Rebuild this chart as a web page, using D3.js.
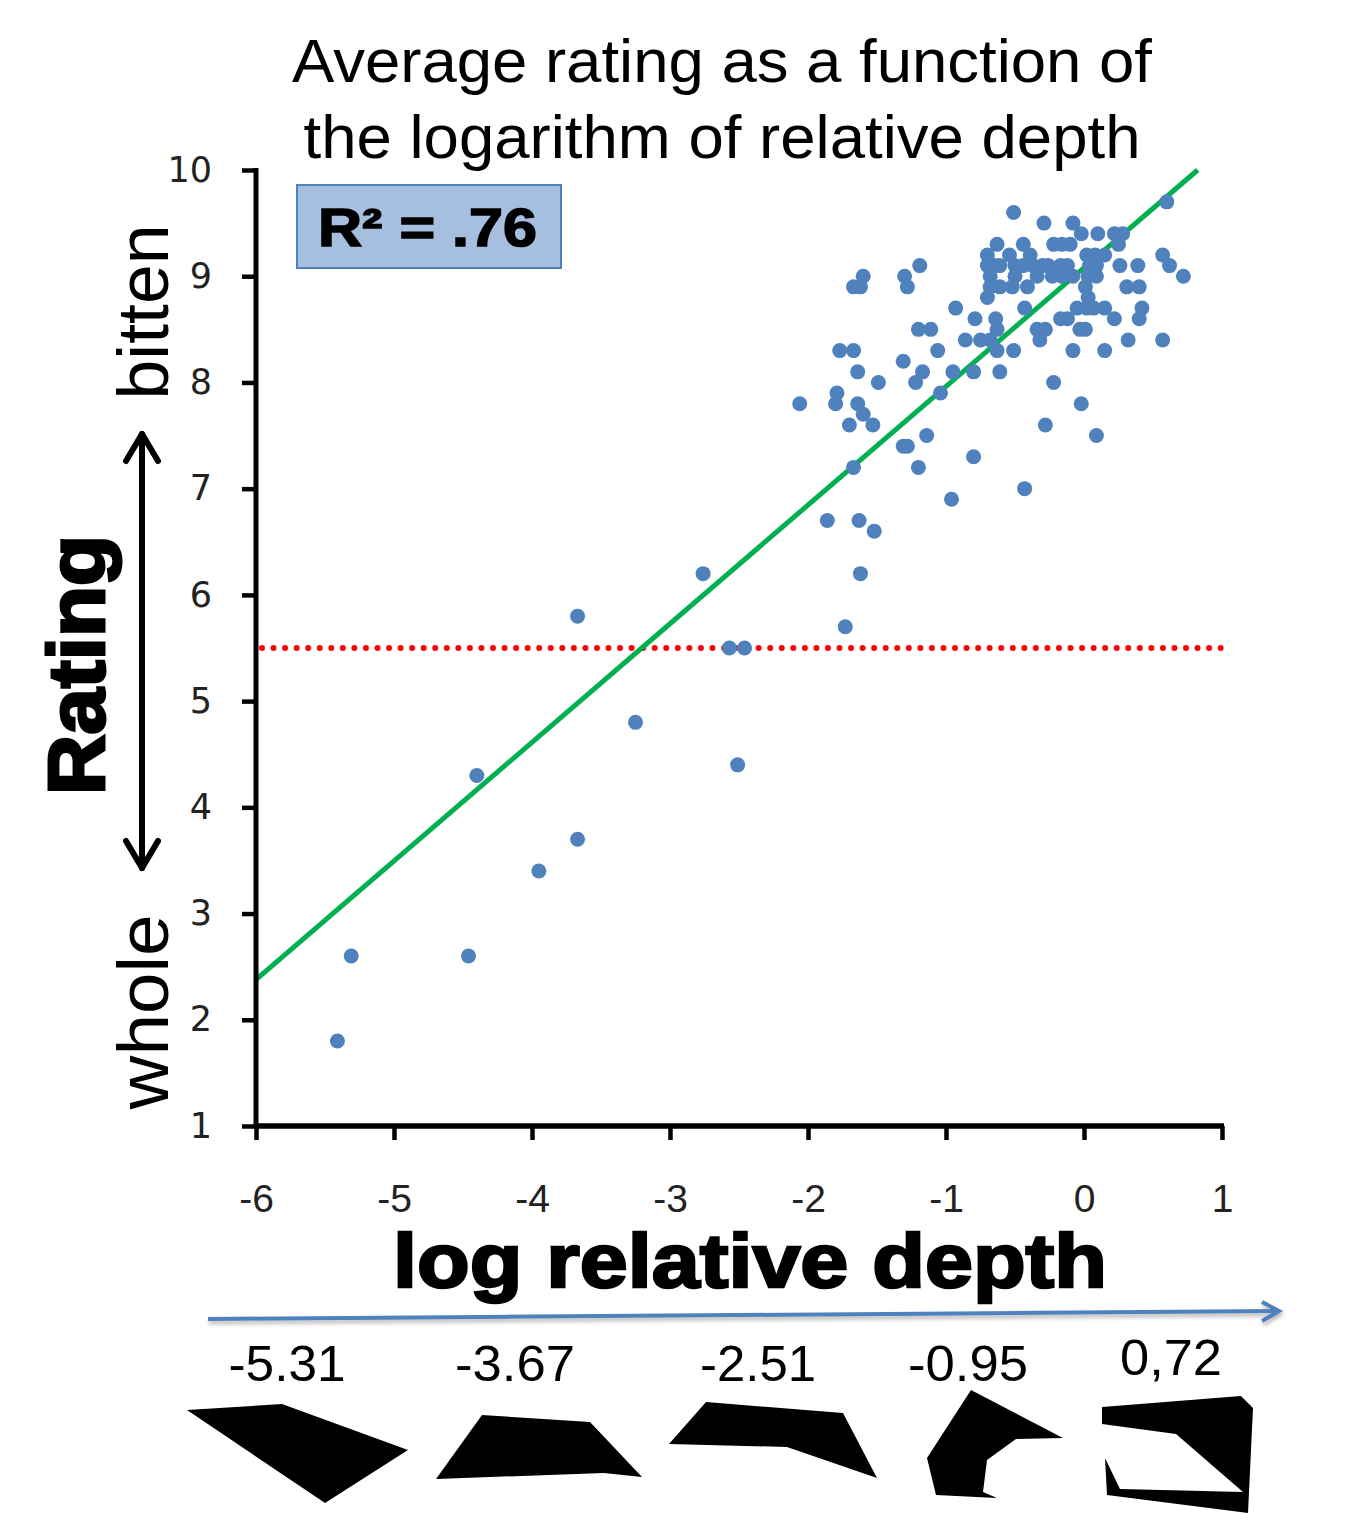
<!DOCTYPE html>
<html><head><meta charset="utf-8">
<script src="https://cdn.jsdelivr.net/npm/d3@7"></script>
<style>body{margin:0;background:#fff}svg{display:block}</style>
</head><body>
<script>
// ---- data ----
const xTicks = [-6,-5,-4,-3,-2,-1,0,1];
const yTicks = [1,2,3,4,5,6,7,8,9,10];
const titleLines = ["Average rating as a function of","the logarithm of relative depth"];
const xLabel = "log relative depth";
const yLabel = "Rating";
const yTop = "bitten", yBottom = "whole";
const r2Text = "R\u00B2 = .76";
const trendSlope = 1.117, trendIntercept = 9.08;
const threshold = 5.5;
const exemplarLabels = ["-5.31","-3.67","-2.51","-0.95","0,72"];
const lowX  = [-5.41,-5.31,-4.46,-4.40,-3.95,-3.67,-3.67,-3.25,-2.76,-2.57,-2.46,-2.51];
const lowY  = [1.8,2.6,2.6,4.3,3.4,3.7,5.8,4.8,6.2,5.5,5.5,4.4];
const midX  = [-2.06,-1.80,-1.64,-1.60,-1.70,-1.53,-1.31,-1.28,-1.14,-1.67,-1.20,-0.80,-0.96,-1.86,-1.63,-1.52,-1.62,-1.73,-0.02,-0.28,0.09,-0.43,-1.79,-1.04,-1.49,-1.22,-0.22];
const midY  = [7.8,7.8,7.8,7.7,7.6,7.6,7.4,7.4,7.5,7.2,7.2,7.3,6.9,6.7,6.7,6.6,6.2,5.7,7.8,7.6,7.5,7.0,7.9,7.9,8.0,8.0,8.0];
const highRows = [
  [9.7,[0.60]],
  [9.6,[-0.51]],
  [9.5,[-0.29,-0.08]],
  [9.4,[-0.02,0.10,0.22,0.28]],
  [9.3,[-0.63,-0.44,-0.22,-0.16,-0.10,0.25]],
  [9.2,[-0.70,-0.54,-0.39,0.02,0.08,0.15,0.57]],
  [9.1,[-1.19,-0.70,-0.65,-0.61,-0.50,-0.44,-0.37,-0.30,-0.26,-0.17,-0.12,0.04,0.09,0.26,0.39,0.62]],
  [9.0,[-1.60,-1.30,-0.68,-0.50,-0.34,-0.23,-0.16,-0.08,0.03,0.09,0.72]],
  [8.9,[-1.67,-1.62,-1.28,-0.68,-0.61,-0.52,-0.41,0.01,0.31,0.40]],
  [8.8,[-0.70,0.03]],
  [8.7,[-0.93,-0.43,-0.05,0.02,0.07,0.15,0.42]],
  [8.6,[-0.79,-0.64,-0.17,-0.12,0.22,0.40]],
  [8.5,[-1.20,-1.11,-0.63,-0.34,-0.28,-0.03,0.01]],
  [8.4,[-0.86,-0.75,-0.68,-0.32,0.32,0.57]],
  [8.3,[-1.77,-1.67,-1.06,-0.63,-0.51,-0.08,0.15]],
  [8.2,[-1.31]],
  [8.1,[-1.64,-1.17,-0.95,-0.80,-0.61]]
];
// exemplar silhouettes, local coordinates relative to each label centre
const shapes = [
  [[-100,20],[-5,14],[121,60],[38,113]],
  [[-33,25],[75,32],[127,87],[89,83],[-79,89]],
  [[-52,12],[85,23],[119,88],[29,57],[-89,54]],
  [[3,0],[95,48],[48,49],[19,70],[15,102],[29,108],[-32,105],[-41,68]],
  [[-69,17],[70,6],[82,18],[77,123],[-64,105],[-66,68],[-51,99],[72,102],[5,44],[-69,34]]
];

// ---- build ----
const points = [];
lowX.forEach((x,i)=>points.push([x,lowY[i]]));
midX.forEach((x,i)=>points.push([x,midY[i]]));
highRows.forEach(([y,xs])=>xs.forEach(x=>points.push([x,y])));

const W=1346,H=1521;
const svg=d3.select("body").append("svg").attr("width",W).attr("height",H);
svg.append("rect").attr("width",W).attr("height",H).attr("fill","#fff");

const x=d3.scaleLinear().domain([-6,1]).range([256,1222]);
const y=d3.scaleLinear().domain([1,10]).range([1126,170]);

// title
svg.selectAll(".title").data(titleLines).join("text")
  .attr("x",722).attr("y",(d,i)=>82+i*76).attr("text-anchor","middle")
  .attr("font-family","Liberation Sans, Arial, sans-serif").attr("font-size",62)
  .attr("textLength",(d,i)=>i===0?860:837).attr("lengthAdjust","spacingAndGlyphs")
  .attr("fill","#000").text(d=>d);

// threshold dotted line
svg.append("line").attr("x1",x(-6)+6).attr("x2",x(1)).attr("y1",y(threshold)).attr("y2",y(threshold))
  .attr("stroke","#ff0000").attr("stroke-width",6).attr("stroke-linecap","round")
  .attr("stroke-dasharray","0 11.55");

// trend line, clipped at top of plot
const xEnd=(10-trendIntercept)/trendSlope;
svg.append("line").attr("x1",x(-6)).attr("y1",y(trendIntercept+trendSlope*-6))
  .attr("x2",x(xEnd)).attr("y2",y(10))
  .attr("stroke","#00b050").attr("stroke-width",5);

// points
svg.append("g").selectAll("circle").data(points).join("circle")
  .attr("cx",d=>x(d[0])).attr("cy",d=>y(d[1])).attr("r",7.5)
  .attr("fill","#4f81bd");

// axes
const yAxis=svg.append("g").attr("transform",`translate(${x(-6)},0)`)
  .call(d3.axisLeft(y).tickValues(yTicks).tickSize(14).tickPadding(30).tickFormat(d3.format("d")));
yAxis.select(".domain").attr("stroke-width",5).attr("d",`M0,${y(1)+2}V${y(10)-2}`);
yAxis.selectAll(".tick line").attr("stroke-width",4.5);
yAxis.selectAll(".tick text").attr("font-family","DejaVu Sans, sans-serif").attr("font-size",35).attr("fill","#222");

const xAxis=svg.append("g").attr("transform",`translate(0,${y(1)})`)
  .call(d3.axisBottom(x).tickValues(xTicks).tickSize(14).tickPadding(44).tickFormat(d3.format("d")));
xAxis.select(".domain").attr("stroke-width",5.5).attr("d",`M${x(-6)-2},0H${x(1)+2}`);
xAxis.selectAll(".tick line").attr("stroke-width",4.5);
xAxis.selectAll(".tick text").attr("font-family","Liberation Sans Narrow, Liberation Sans, sans-serif")
  .attr("font-size",39).attr("fill","#222").text(d=>d<0?"-"+Math.abs(d):d);

// R2 box
svg.append("rect").attr("x",297).attr("y",185).attr("width",264).attr("height",83)
  .attr("fill","#a7bfdf").attr("stroke","#4f81bd").attr("stroke-width",2);
svg.append("text").attr("x",318).attr("y",246).attr("font-family","Liberation Sans, Arial, sans-serif")
  .attr("font-weight","bold").attr("font-size",53).attr("textLength",219).attr("lengthAdjust","spacingAndGlyphs")
  .attr("stroke","#000").attr("stroke-width",1.5)
  .text(r2Text);

// x label
svg.append("text").attr("x",750).attr("y",1287).attr("text-anchor","middle")
  .attr("font-family","Liberation Sans, Arial, sans-serif").attr("font-weight","bold").attr("font-size",76)
  .attr("textLength",714).attr("lengthAdjust","spacingAndGlyphs").attr("stroke","#000").attr("stroke-width",2.5)
  .text(xLabel);

// y label
svg.append("text").attr("transform","translate(104,665) rotate(-90)").attr("text-anchor","middle")
  .attr("font-family","Liberation Sans, Arial, sans-serif").attr("font-weight","bold").attr("font-size",80)
  .attr("textLength",260).attr("lengthAdjust","spacingAndGlyphs").attr("stroke","#000").attr("stroke-width",3)
  .text(yLabel);
svg.append("text").attr("transform","translate(168,312) rotate(-90)").attr("text-anchor","middle")
  .attr("font-family","Liberation Sans, Arial, sans-serif").attr("font-size",72)
  .attr("textLength",175).attr("lengthAdjust","spacingAndGlyphs").text(yTop);
svg.append("text").attr("transform","translate(168,1012) rotate(-90)").attr("text-anchor","middle")
  .attr("font-family","Liberation Sans, Arial, sans-serif").attr("font-size",72)
  .attr("textLength",195).attr("lengthAdjust","spacingAndGlyphs").text(yBottom);

// double arrow
const arr=svg.append("g").attr("stroke","#000").attr("stroke-width",6).attr("fill","none").attr("stroke-linecap","round").attr("stroke-linejoin","round");
arr.append("line").attr("x1",142).attr("x2",142).attr("y1",434).attr("y2",868);
arr.append("path").attr("d","M126,461L142,434L158,461");
arr.append("path").attr("d","M126,841L142,868L158,841");

// blue arrow
const defs=svg.append("defs");
const f=defs.append("filter").attr("id","sh").attr("x","-10%").attr("y","-200%").attr("width","120%").attr("height","500%");
f.append("feDropShadow").attr("dx",1).attr("dy",3).attr("stdDeviation",2).attr("flood-color","#000").attr("flood-opacity",0.3);
const ba=svg.append("g").attr("stroke","#4f81bd").attr("stroke-width",4).attr("fill","none").attr("filter","url(#sh)");
ba.append("line").attr("x1",208).attr("y1",1319).attr("x2",1278).attr("y2",1311);
ba.append("path").attr("d","M1262,1302L1279,1311L1262,1321").attr("stroke-linejoin","miter");

// exemplar labels and shapes
const exCx=[287,515,758,968,1171];
const exW=[117,120,116,120,102];
svg.selectAll(".ex").data(exemplarLabels).join("text")
  .attr("x",(d,i)=>exCx[i]).attr("y",(d,i)=>i===4?1375:1381).attr("text-anchor","middle")
  .attr("font-family","Liberation Sans Narrow, Liberation Sans, sans-serif").attr("font-size",50)
  .attr("textLength",(d,i)=>exW[i]).attr("lengthAdjust","spacingAndGlyphs").text(d=>d);
svg.selectAll(".shape").data(shapes).join("polygon")
  .attr("points",(d,i)=>d.map(p=>[exCx[i]+p[0],1390+p[1]].join(",")).join(" "))
  .attr("fill","#000");
</script>
</body></html>
